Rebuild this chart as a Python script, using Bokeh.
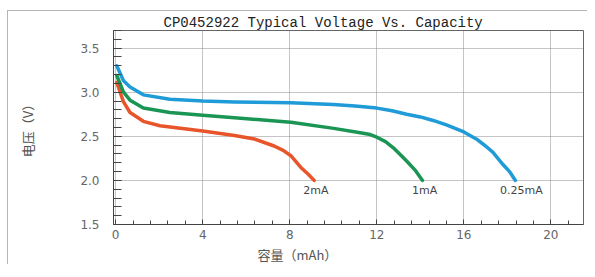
from bokeh.plotting import figure
from bokeh.models import FixedTicker, Range1d, ColumnDataSource, Title
from bokeh.core.properties import value
from bokeh.embed import file_html
from bokeh.resources import INLINE

# ---- data ----
blue_x = [0.05, 0.36, 0.66, 1.27, 2.49, 4.0, 5.46, 8.05, 10.0, 11.0, 12.0, 12.7, 13.37, 14.0, 14.59, 15.2, 16.0, 16.57, 17.0, 17.33, 17.8, 18.1, 18.37]
blue_y = [3.30, 3.13, 3.06, 2.97, 2.92, 2.90, 2.89, 2.88, 2.86, 2.845, 2.82, 2.79, 2.75, 2.72, 2.68, 2.63, 2.55, 2.47, 2.39, 2.32, 2.18, 2.10, 2.00]

green_x = [0.05, 0.36, 0.66, 1.27, 2.49, 4.0, 5.46, 8.05, 10.02, 11.24, 11.7, 12.0, 12.4, 12.76, 13.05, 13.37, 13.75, 14.1]
green_y = [3.19, 3.00, 2.91, 2.82, 2.77, 2.74, 2.71, 2.66, 2.59, 2.54, 2.52, 2.49, 2.44, 2.37, 2.30, 2.22, 2.12, 2.00]

orange_x = [0.05, 0.36, 0.66, 1.27, 2.03, 4.0, 5.46, 6.37, 7.28, 7.7, 8.05, 8.5, 8.85, 9.12]
orange_y = [3.11, 2.89, 2.77, 2.67, 2.62, 2.56, 2.51, 2.47, 2.39, 2.34, 2.28, 2.15, 2.07, 2.00]

series_labels = ["2mA", "1mA", "0.25mA"]
label_x = [9.2, 14.2, 18.65]
label_y = [1.88, 1.88, 1.88]

x_ticks = [0, 4, 8, 12, 16, 20]
x_minor = [round(0.8 * i, 2) for i in range(0, 28)]
y_ticks = [1.5, 2.0, 2.5, 3.0, 3.5]
y_minor = [round(1.5 + 0.1 * i, 2) for i in range(0, 23)]

title_text = "CP0452922 Typical Voltage Vs. Capacity"
x_label = "容量（mAh）"
y_label = "电压（V）"

# ---- figure ----
p = figure(frame_width=470, frame_height=194,
           x_range=Range1d(-0.1, 21.5), y_range=Range1d(1.5, 3.70),
           output_backend="svg", toolbar_location=None,
           min_border_left=105, min_border_right=4, min_border_top=19, min_border_bottom=40,
           background_fill_color=None, border_fill_color="white")
p.styles = {"border-left": "1px solid #b5b5b5", "border-top": "1px solid #b5b5b5",
            "margin-left": "7px", "margin-top": "10px"}

p.title.text = title_text
p.title.text_font = "Liberation Mono"
p.title.text_font_size = "14px"
p.title.text_font_style = "normal"
p.title.text_color = "#222222"
p.title.align = "left"
p.title.offset = 50
p.title.standoff = 0

p.outline_line_color = "#666666"
p.outline_line_width = 1

for ax in (p.xaxis[0], p.yaxis[0]):
    ax.axis_line_color = "#444444"
    ax.major_tick_line_color = "#444444"
    ax.minor_tick_line_color = "#444444"
    ax.major_tick_out = 0
    ax.minor_tick_out = 0
    ax.major_label_text_font = "DejaVu Sans"
    ax.major_label_text_font_size = "12px"
    ax.major_label_text_color = "#666666"

p.xaxis.ticker = FixedTicker(ticks=x_ticks, minor_ticks=x_minor)
p.yaxis.ticker = FixedTicker(ticks=y_ticks, minor_ticks=y_minor)
p.yaxis.major_label_overrides = {t: f"{t:.1f}" for t in y_ticks}
p.xaxis.major_tick_in = 5
p.xaxis.minor_tick_in = 4
p.yaxis.major_tick_in = 8
p.yaxis.minor_tick_in = 8
p.xaxis.major_label_standoff = 5
p.yaxis.major_label_standoff = 14

p.yaxis.axis_label = y_label
p.yaxis.axis_label_standoff = 40
p.yaxis.axis_label_text_font = "Noto Sans CJK SC"
p.yaxis.axis_label_text_font_size = "13px"
p.yaxis.axis_label_text_font_style = "normal"
p.yaxis.axis_label_text_color = "#555555"

p.add_layout(Title(text=x_label, align="left", offset=144, standoff=2,
                   text_font="Noto Sans CJK SC", text_font_size="13px",
                   text_font_style="normal", text_color="#555555"), "below")

p.xgrid.ticker = FixedTicker(ticks=x_ticks)
p.ygrid.ticker = FixedTicker(ticks=y_ticks)
for g in (p.xgrid[0], p.ygrid[0]):
    g.grid_line_color = "#8a8a8a"
    g.grid_line_dash = "1 1"
    g.grid_line_width = 1

p.line(orange_x, orange_y, line_color="#e8552b", line_width=3.5, line_cap="round", line_join="round")
p.line(green_x, green_y, line_color="#1b9553", line_width=3.5, line_cap="round", line_join="round")
p.line(blue_x, blue_y, line_color="#1f9bd7", line_width=3.5, line_cap="round", line_join="round")

src = ColumnDataSource(dict(x=label_x, y=label_y, t=series_labels))
p.text(x="x", y="y", text="t", source=src, text_align="center", text_baseline="middle",
       text_font=value("DejaVu Sans"), text_font_size="11px", text_color="#444444")

open("out.html", "w").write(file_html(p, INLINE))
